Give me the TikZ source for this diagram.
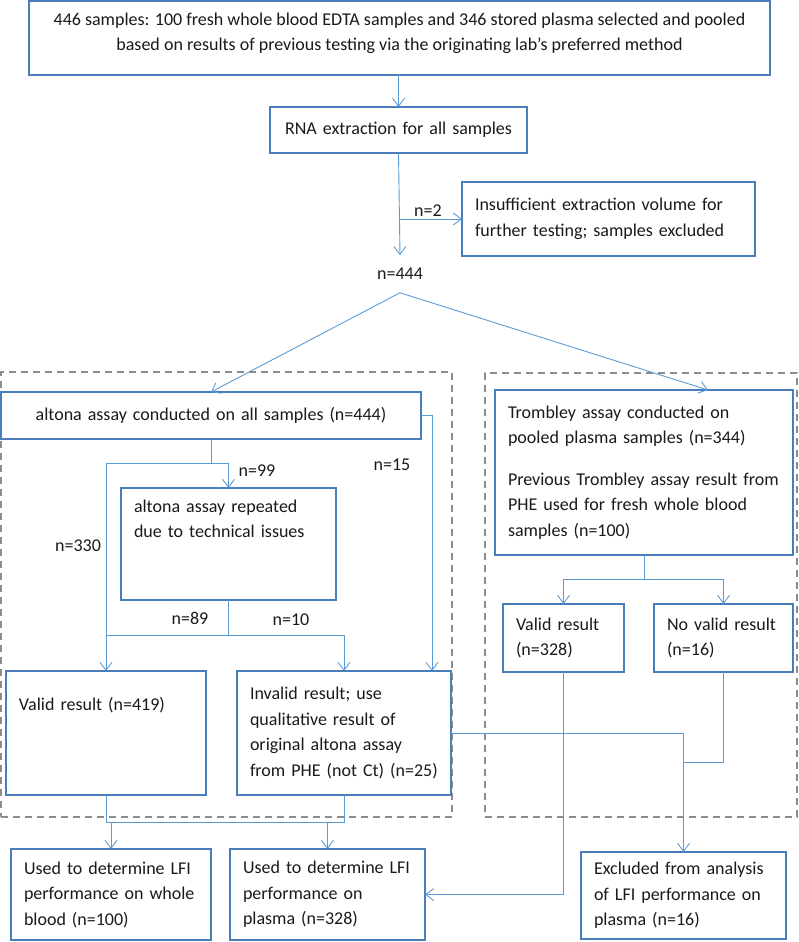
\documentclass[tikz,border=0pt]{standalone}
\usepackage{fontspec}
\setmainfont{Carlito}
\usetikzlibrary{arrows.meta,calc}
\definecolor{boxblue}{HTML}{4A7EBB}
\definecolor{linkblue}{HTML}{5B9BD5}
\definecolor{dashgrey}{HTML}{8C8C8C}
\definecolor{txt}{HTML}{1A1A1A}
\begin{document}
\begin{tikzpicture}[x=1pt,y=-1pt,
  font=\fontsize{18}{25.5}\selectfont, text=txt,
  box/.style={draw=boxblue, line width=1.8pt, fill=white, anchor=north west,
    inner xsep=13pt, inner ysep=0pt, outer sep=0pt, align=left},
  dashgrp/.style={draw=dashgrey, line width=1.5pt, dash pattern=on 7pt off 5pt,
    anchor=north west, inner sep=0pt, outer sep=0pt},
  lbl/.style={inner sep=0pt, outer sep=0pt},
  link/.style={draw=linkblue, line width=0.9pt},
  arr/.style={link, -{Straight Barb[length=8pt,width=12pt]}}]
\useasboundingbox (0,0) rectangle (799,942);

% group frames
\node[dashgrp, minimum width=451pt, minimum height=445pt] (grpA) at (1,372) {};
\node[dashgrp, minimum width=312pt, minimum height=444pt] (grpB) at (485,373) {};

% boxes
\node[box, minimum width=741pt, minimum height=74pt, align=center] (top) at (29,1)
  {\makebox[715pt][c]{446 samples: 100 fresh whole blood EDTA samples and 346 stored plasma selected and pooled}\\
   \makebox[715pt][c]{based on results of previous testing via the originating lab’s preferred method}\rule[-12pt]{0pt}{12pt}};
\node[box, text width=231pt, minimum height=46pt, align=center] (rna) at (270,107)
  {RNA extraction for all samples};
\node[box, text width=267pt, minimum height=74pt] (insuf) at (462,182)
  {Insufficient extraction volume for\\further testing; samples excluded};
\node[lbl, inner ysep=13pt] (n444) at (400,274) {n=444};

\node[box, text width=394pt, minimum height=47pt, align=center] (altona) at (1,392)
  {altona assay conducted on all samples (n=444)};
\node[box, text width=189pt, minimum height=112pt] (rep) at (121,488)
  {altona assay repeated\\due to technical issues\\\mbox{}\\\mbox{}};
\node[box, text width=174pt, minimum height=124pt] (valid1) at (6,671)
  {Valid result (n=419)\\[8pt]\mbox{}\\\mbox{}};
\node[box, text width=188pt, minimum height=124pt] (invalid) at (237,671)
  {Invalid result; use\\qualitative result of\\original altona assay\\from PHE (not Ct) (n=25)};

\node[box, text width=272pt, minimum height=165pt] (tromb) at (495,390)
  {Trombley assay conducted on\\pooled plasma samples (n=344)\\[16pt]
   Previous Trombley assay result from\\PHE used for fresh whole blood\\samples (n=100)};
\node[box, text width=95pt, minimum height=68pt] (valid2) at (503,604)
  {Valid result\\(n=328)};
\node[box, text width=113pt, minimum height=68pt] (novalid) at (654,604)
  {No valid result\\(n=16)};

\node[box, text width=174pt, minimum height=91pt] (usedwb) at (11,849)
  {Used to determine LFI\\performance on whole\\blood (n=100)};
\node[box, text width=169pt, minimum height=91pt] (usedpl) at (230,849)
  {Used to determine LFI\\performance on\\plasma (n=328)};
\node[box, text width=179pt, minimum height=87pt] (excl) at (581,852)
  {Excluded from analysis\\of LFI performance on\\plasma (n=16)};

% labels
\node[lbl] (l2) at (428,211) {n=2};
\node[lbl] (l99) at (257,471) {n=99};
\node[lbl] (l330) at (78,546) {n=330};
\node[lbl] (l15) at (392,465) {n=15};
\node[lbl] (l89) at (190,618) {n=89};
\node[lbl] (l10) at (291,620) {n=10};

% junctions
\coordinate (j1) at (211,463);
\coordinate (j2) at (228.5,635);
\coordinate (j3) at (683.5,762);
\coordinate (j4) at (644,579);
\coordinate (j5) at (106,822);
\coordinate (j6) at (344,822);

% connectors
\draw[arr] (top.south) -- (rna.south |- top.south) -- (rna.north);
\draw[arr] (rna.south) -- (n444.north);
\draw[arr] (rna.south |- insuf.west) -- (insuf.west);
\draw[arr] (n444.south) -- (altona.north);
\draw[arr] (n444.south) -- ($(tromb.north west)+(213,0)$);

\draw[link] (altona.south) -- (j1);
\draw[arr] (j1) -| (valid1.north);
\draw[arr] (j1) -| (rep.north);
\draw[link] (rep.south) -- (j2) -- (j2 -| valid1.north);
\draw[arr] (j2) -| (invalid.north);
\draw[arr] (altona.east) -| ($(invalid.north east)+(-19,0)$);

\draw[link] (tromb.south) -- (j4);
\draw[arr] (j4) -| (valid2.north);
\draw[arr] (j4) -| (novalid.north);
\draw[arr] (invalid.east) -| (excl.north);
\draw[link] (novalid.south) |- (j3);
\draw[arr] (valid2.south) |- (usedpl.east);

\draw[link] (valid1.south) -- (j5) -- (j6) -- (invalid.south);
\draw[arr] (j5 -| usedwb.north) -- (usedwb.north);
\draw[arr] (j5 -| usedpl.north) -- (usedpl.north);
\end{tikzpicture}
\end{document}
